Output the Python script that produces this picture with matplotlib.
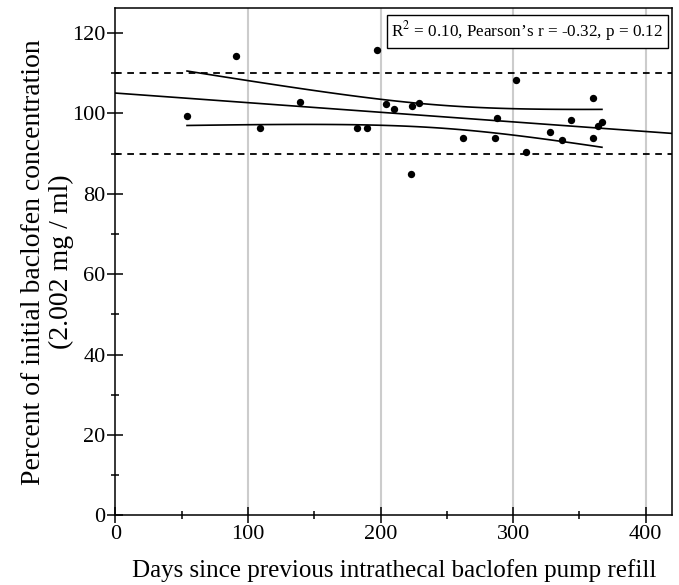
import matplotlib
matplotlib.use("Agg")
import matplotlib.pyplot as plt
import numpy as np

# days since refill vs percent of initial concentration
days = [54, 91, 109, 139, 182, 190, 197, 204, 210, 223, 224, 229,
        262, 286, 288, 302, 310, 328, 337, 344, 360, 360, 364, 367]
percent = [99.4, 114.4, 96.4, 102.9, 96.4, 96.4, 115.9, 102.4, 101.0, 84.9, 101.9, 102.5,
           93.9, 93.9, 98.9, 108.3, 90.3, 95.3, 93.3, 98.4, 103.9, 93.9, 97.0, 97.9]

limits = [90, 110]
xticks = [0, 100, 200, 300, 400]
yticks = [0, 20, 40, 60, 80, 100, 120]
stats_text = "R$^2$ = 0.10, Pearson\u2019s r = -0.32, p = 0.12"
t_crit = 2.074  # t(0.975, df=22)

plt.rcParams['font.family'] = ['Liberation Serif', 'DejaVu Serif']
plt.rcParams['mathtext.fontset'] = 'stix'

x = np.array(days, dtype=float)
y = np.array(percent, dtype=float)
slope, intercept = np.polyfit(x, y, 1)
n = len(x)
resid = y - (slope * x + intercept)
s = np.sqrt(np.sum(resid ** 2) / (n - 2))
xm = x.mean()
sxx = np.sum((x - xm) ** 2)

fig = plt.figure(figsize=(6.79, 5.85), dpi=100)
ax = fig.add_axes([0.170, 0.119, 0.820, 0.867])

for gx in xticks[1:]:
    ax.axvline(gx, color='#cccccc', lw=1.5, zorder=0)

for lim in limits:
    ax.axhline(lim, color='black', lw=1.3, ls=(0, (3.7, 3.1)), zorder=1)

# regression line over the whole axis
xl = np.linspace(0, 420, 100)
ax.plot(xl, slope * xl + intercept, color='black', lw=1.2, zorder=2)

# confidence band over the data range
xb = np.linspace(x.min(), x.max(), 100)
yb = slope * xb + intercept
half = t_crit * s * np.sqrt(1 / n + (xb - xm) ** 2 / sxx)
ax.plot(xb, yb + half, color='black', lw=1.2, zorder=2)
ax.plot(xb, yb - half, color='black', lw=1.2, zorder=2)

ax.scatter(x, y, s=28, color='black', zorder=3, linewidths=0)

ax.set_xlim(0, 420)
ax.set_ylim(0, 126.2)
ax.set_xticks(xticks)
ax.set_yticks(yticks)
ax.set_xticks(np.arange(50, 420, 100), minor=True)
ax.set_yticks(np.arange(10, 126, 20), minor=True)
ax.tick_params(which='major', direction='inout', length=12, width=1.1, labelsize=16, pad=1)
ax.tick_params(which='minor', direction='inout', length=6, width=1.1)
for sp in ax.spines.values():
    sp.set_linewidth(1.1)

ax.set_xlabel("Days since previous intrathecal baclofen pump refill", fontsize=18, labelpad=11)
ax.set_ylabel("Percent of initial baclofen concentration\n(2.002 mg / ml)", fontsize=20,
              labelpad=-1, linespacing=1.15)

ax.text(0.984, 0.978, stats_text, transform=ax.transAxes, ha='right', va='top', fontsize=12.3,
        bbox=dict(boxstyle='square,pad=0.25', facecolor='white', edgecolor='black', lw=1))

fig.savefig("out.png", dpi=100)
